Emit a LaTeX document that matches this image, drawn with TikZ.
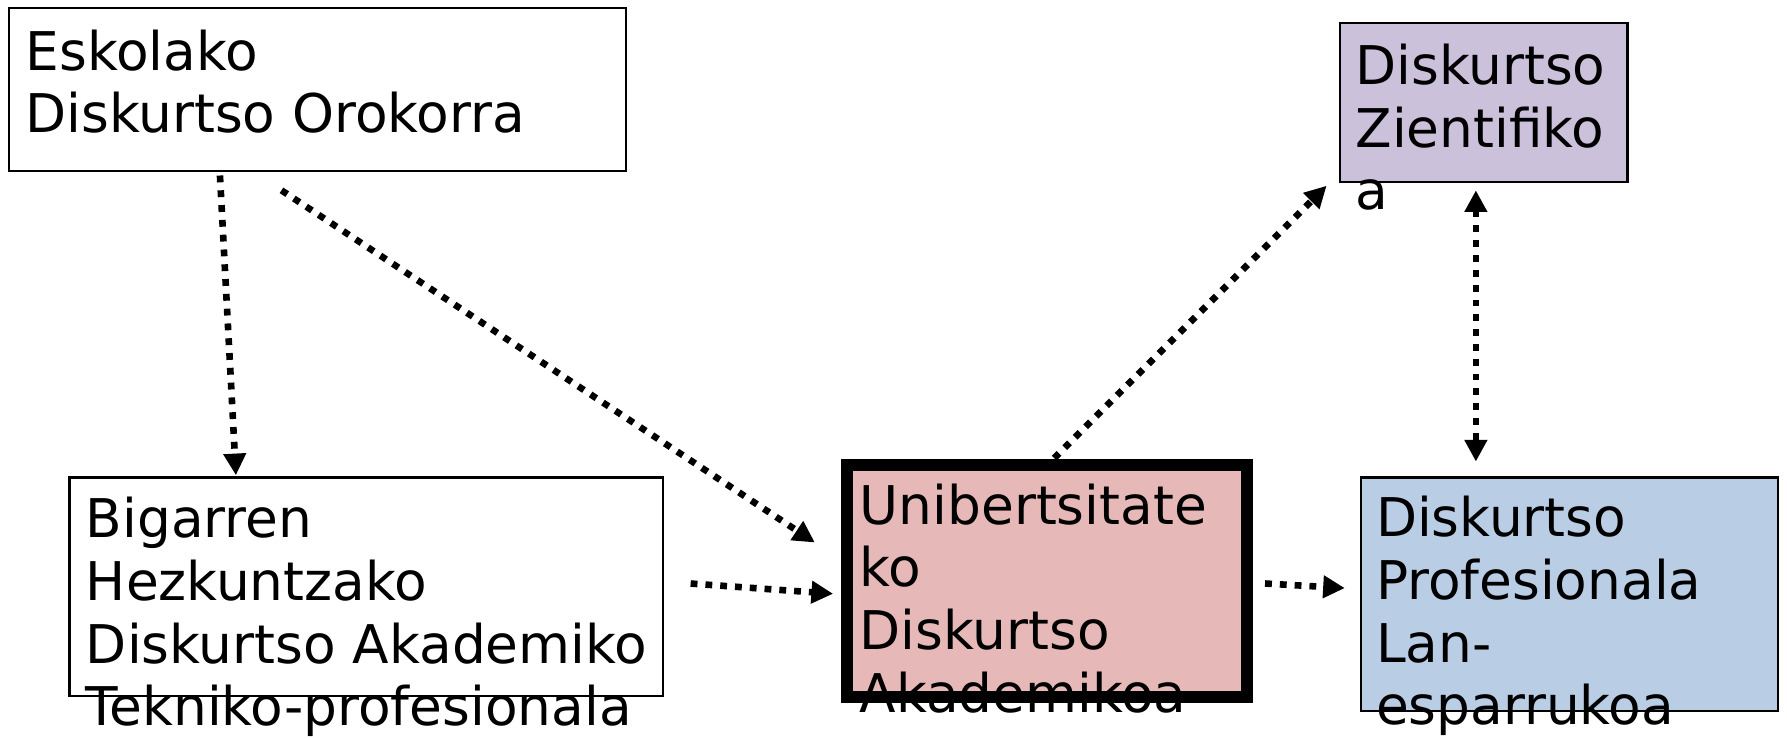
\documentclass[tikz,border=0pt]{standalone}
\usepackage{fontspec}
\setmainfont{DejaVu Sans}
\usetikzlibrary{arrows.meta}
\begin{document}
\begin{tikzpicture}[x=0.5pt,y=-0.5pt,
  box/.style={draw=black,line width=1pt,inner sep=0pt,anchor=north west},
  lbl/.style={anchor=base west,inner sep=0pt,align=left,font=\fontsize{23.4pt}{27.5pt}\selectfont},
  conn/.style={line width=2.9pt,dash pattern=on 3pt off 3.5pt,-{Triangle[length=9.5pt,width=9.5pt]}},
  bconn/.style={line width=2.9pt,dash pattern=on 3pt off 3.5pt,{Triangle[length=9.5pt,width=9.5pt]}-{Triangle[length=9.5pt,width=9.5pt]}}]
\definecolor{lav}{HTML}{CCC1DA}
\definecolor{pnk}{HTML}{E6B9B8}
\definecolor{lblue}{HTML}{B9CDE5}
\useasboundingbox (0,0) rectangle (1568,647.5);
% boxes
\node[box,minimum width=270.5pt,minimum height=71.5pt] (esk) at (7,6) {};
\node[box,fill=lav,minimum width=126pt,minimum height=70pt] (zie) at (1175,19) {};
\node[box,minimum width=260.5pt,minimum height=96pt] (big) at (60,418) {};
\node[box,fill=pnk,line width=5.25pt,minimum width=175.5pt,minimum height=101.5pt] (uni) at (738,403) {};
\node[box,fill=lblue,minimum width=183pt,minimum height=102.5pt] (pro) at (1193,418) {};
% texts (anchored at the baseline of the last line)
\node[lbl] (tesk) at (22,116.5) {Eskolako\\Diskurtso Orokorra};
\node[lbl] (tzie) at (1189,184) {Diskurtso\\Zientifiko\\a};
\node[lbl] (tbig) at (75,637) {Bigarren\\Hezkuntzako\\Diskurtso Akademiko\\Tekniko-profesionala};
\node[lbl] (tuni) at (754,625) {Unibertsitate\\ko\\Diskurtso\\Akademikoa};
\node[lbl] (tpro) at (1207,636) {Diskurtso\\Profesionala\\Lan-\\esparrukoa};
% connector ends
\coordinate (a1) at (193,154); \coordinate (b1) at (207,417);
\coordinate (a2) at (247,167); \coordinate (b2) at (715,476);
\coordinate (a3) at (606,512); \coordinate (b3) at (731,521);
\coordinate (a4) at (925,402); \coordinate (b4) at (1164,163);
\coordinate (a5) at (1295,167); \coordinate (b5) at (1295,405);
\coordinate (a6) at (1110,512); \coordinate (b6) at (1180,516);
\draw[conn] (a1) -- (b1);
\draw[conn] (a2) -- (b2);
\draw[conn] (a3) -- (b3);
\draw[conn] (a4) -- (b4);
\draw[bconn] (a5) -- (b5);
\draw[conn] (a6) -- (b6);
\end{tikzpicture}
\end{document}
